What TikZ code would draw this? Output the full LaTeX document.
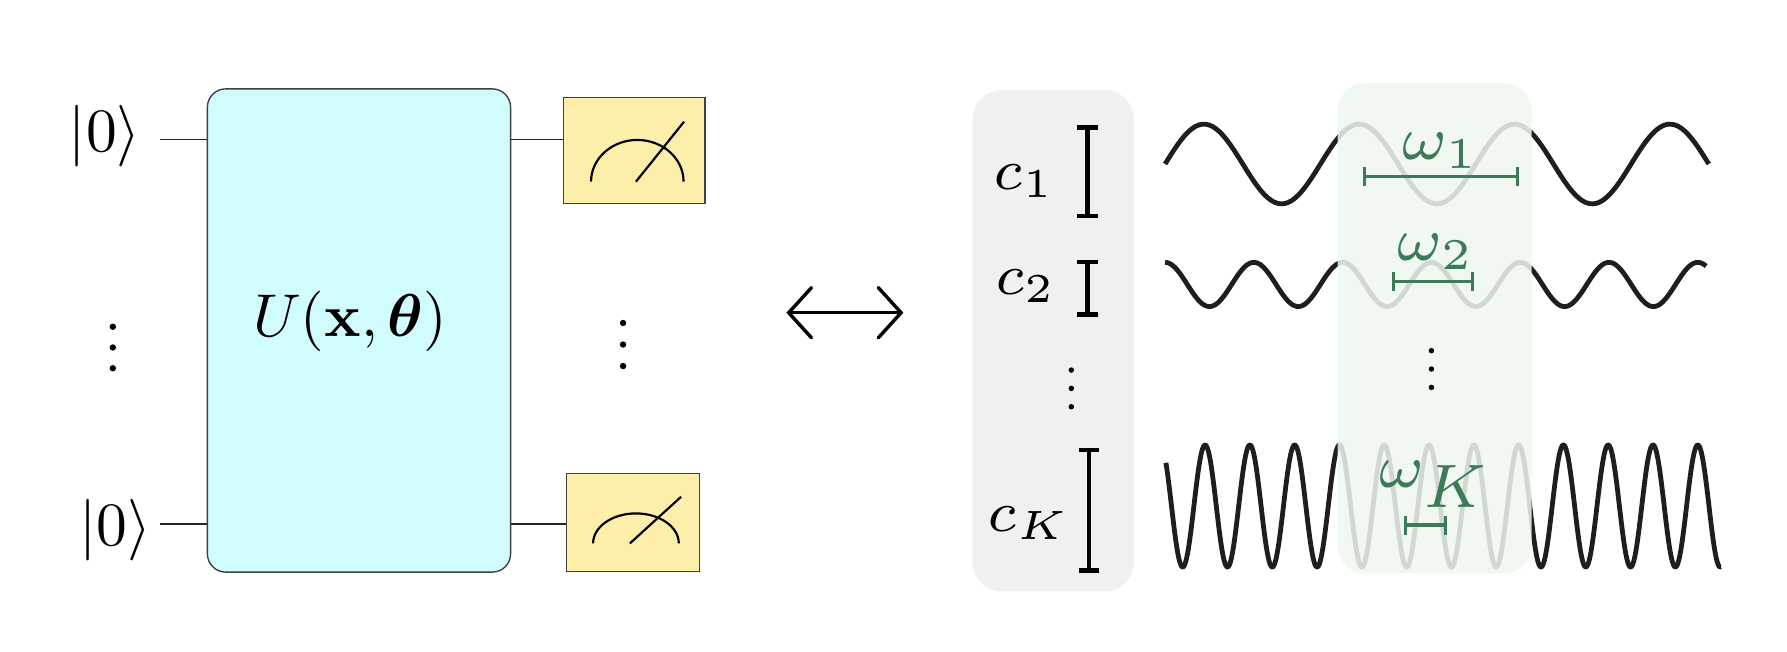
\documentclass[tikz,border=0pt]{standalone}
\usepackage{amsmath}
\usepackage{graphicx}
\usetikzlibrary{arrows.meta}
\definecolor{boxcyan}{HTML}{D0FCFD}
\definecolor{meteryel}{HTML}{FDEFAA}
\definecolor{graybg}{HTML}{F0F0F0}
\definecolor{greenbg}{HTML}{EFF7EF}
\definecolor{labgreen}{HTML}{3D7A57}
\definecolor{wavecol}{HTML}{1E1E1E}
\newcommand{\fsz}[2]{\scalebox{#1}{#2}}
\newcommand{\fss}[2]{\scalebox{#1}{\scriptsize #2}}
\tikzset{
  wire/.style={line width=0.6pt, black!85},
  gatebox/.style={draw=black!75, line width=0.6pt, fill=boxcyan, rounded corners=8pt, inner sep=0pt},
  meterbox/.style={draw=black!75, line width=0.5pt, fill=meteryel, inner sep=0pt},
  meterline/.style={line width=0.95pt, black},
  dotmark/.style={circle, fill=black, inner sep=0pt, minimum size=#1},
  wave/.style={line width=2.1pt, wavecol, line join=round},
  ampbar/.style={line width=2pt, black, {Bar[width=9pt]}-{Bar[width=9pt]}},
  freqbar/.style={line width=1.45pt, labgreen, {Bar[width=8.3pt]}-{Bar[width=8.3pt]}},
  panel/.style={rounded corners=13pt, inner sep=0pt},
  txt/.style={inner sep=0pt}
}
\begin{document}
\begin{tikzpicture}[x=0.5pt,y=-0.5pt]
\useasboundingbox (0,0) rectangle (1568,572);
\fill[white] (0,0) rectangle (1568,572);

% ---------- left: circuit ----------
\node[gatebox, minimum width=133pt, minimum height=212pt] (U) at (315,290) {};
\node[txt] (Ulab) at (307.3,282.3) {\fsz{2.65}{$U(\mathbf{x},\boldsymbol{\theta})$}};

\node[txt] (k1) at (92,119) {\fsz{2.7}{$|0\rangle$}};
\node[txt] (k2) at (101,465) {\fsz{2.7}{$|0\rangle$}};

\node[meterbox, minimum width=62pt, minimum height=46.5pt] (m1) at (556.6,131.9) {};
\node[meterbox, minimum width=58.5pt, minimum height=43pt] (m2) at (555.2,458.5) {};

\coordinate (w1) at (140.7,122.3);
\coordinate (w2) at (140.7,459.8);
\draw[wire] (w1) -- (w1 -| U.west);
\draw[wire] (U.east |- w1) -- (w1 -| m1.west);
\draw[wire] (w2) -- (w2 -| U.west);
\draw[wire] (U.east |- w2) -- (w2 -| m2.west);

% meter symbols
\draw[meterline] (518.6,159.4) arc[start angle=180, end angle=360, x radius=40.6, y radius=36.6];
\draw[meterline] (558,159.4) -- (600.2,106.8);
\draw[meterline] (520.4,476.8) arc[start angle=180, end angle=360, x radius=37.6, y radius=26.3];
\draw[meterline] (552.7,476.8) -- (597.6,435.9);

% vertical dots
\node[dotmark=2.8pt] (ld1) at (99,286.7) {};
\node[dotmark=2.8pt] (ld2) at (99,304.9) {};
\node[dotmark=2.8pt] (ld3) at (99,323.1) {};
\node[dotmark=2.8pt] (rd1) at (546.7,283.4) {};
\node[dotmark=2.8pt] (rd2) at (546.7,302.3) {};
\node[dotmark=2.8pt] (rd3) at (546.7,321.2) {};

% ---------- arrow ----------
\coordinate (al) at (690,274.4);
\coordinate (ar) at (792.7,274.4);
\draw[line width=1.5pt, line cap=round,
  {Straight Barb[length=10pt, width=22pt, line cap=round]}-{Straight Barb[length=10pt, width=22pt, line cap=round]}] (al) -- (ar);

% ---------- right: Fourier picture ----------
\node[panel, fill=graybg, minimum width=70.8pt, minimum height=220pt] (gp) at (924.2,299) {};

\node[txt] (c1) at (899,159) {\fss{3.6}{$c_1$}};
\node[txt] (c2) at (900,251) {\fss{3.6}{$c_2$}};
\node[txt] (cK) at (903,459) {\fss{3.6}{$c_K$}};

\draw[ampbar] (954,110) -- (954,191.6);
\draw[ampbar] (954,228) -- (954,278);
\draw[ampbar] (955.6,393) -- (955.6,502.5);

\node[dotmark=2.4pt] (gd1) at (940,324.7) {};
\node[dotmark=2.4pt] (gd2) at (940,340.8) {};
\node[dotmark=2.4pt] (gd3) at (940,356.9) {};

% waves
\draw[wave] plot[domain=0:1260, samples=160, variable=\t] ({1022.3+\t/360*136.3},{143.9-35*sin(\t)});
\draw[wave] plot[domain=0:2194, samples=260, variable=\t] ({1022.3+\t/360*77.9},{249.6-19.4*cos(\t)});
\draw[wave] plot[domain=-315:4146, samples=620, variable=\t] ({1057.4+\t/360*39.3},{444-53.6*cos(\t)});

% green window over waves
\node[panel, fill=greenbg, fill opacity=0.86, rounded corners=12pt, minimum width=85.1pt, minimum height=215pt] (win) at (1258.8,288) {};

\draw[freqbar] (1195.6,155) -- (1333,155);
\draw[freqbar] (1221,247) -- (1293.5,247);
\draw[freqbar] (1232,460.7) -- (1270,460.7);

\node[txt, text=labgreen] (om1) at (1264,132) {\fss{3.85}{$\omega_1$}};
\node[txt, text=labgreen] (om2) at (1260,221) {\fss{3.85}{$\omega_2$}};
\node[txt, text=labgreen] (omK) at (1259,425) {\fss{3.85}{$\omega_{\textstyle K}$}};

\node[dotmark=2.4pt] (wd1) at (1256,307.7) {};
\node[dotmark=2.4pt] (wd2) at (1256,323.8) {};
\node[dotmark=2.4pt] (wd3) at (1256,339.9) {};
\end{tikzpicture}
\end{document}
